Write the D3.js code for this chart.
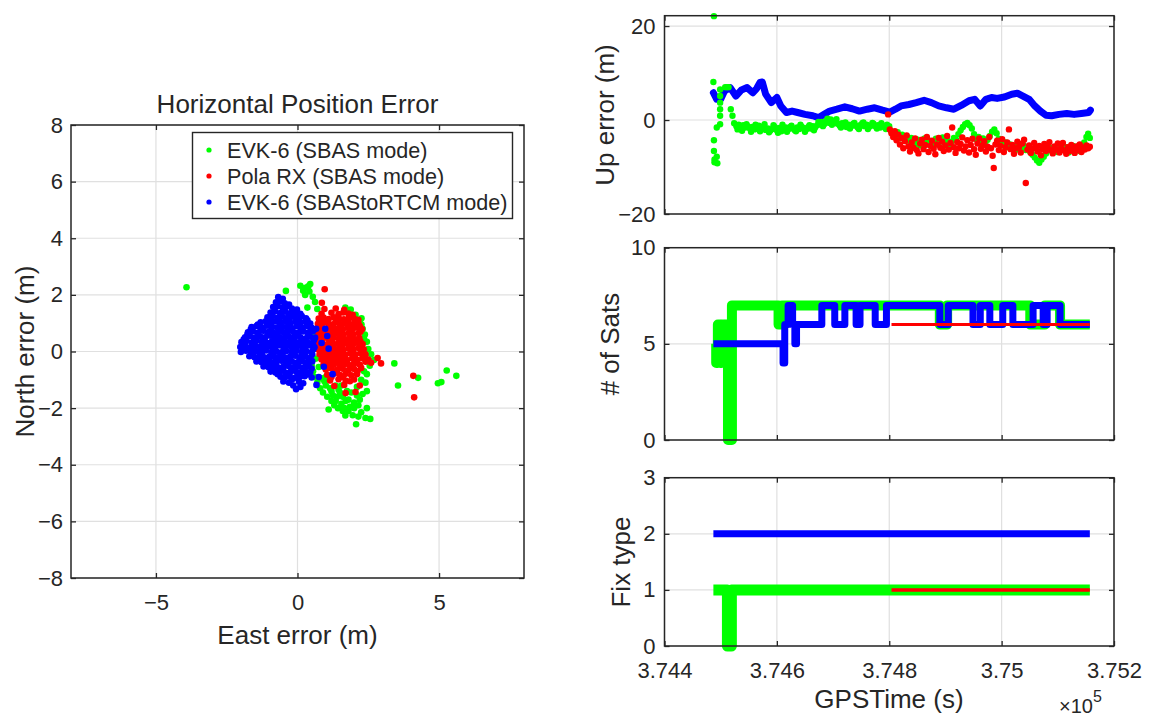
<!DOCTYPE html>
<html>
<head>
<meta charset="utf-8">
<script src="https://cdn.jsdelivr.net/npm/d3@7"></script>
<style>
  body { margin: 0; background: #fff; }
  svg { display: block; }
  text { font-family: "Liberation Sans", Arial, Helvetica, sans-serif; fill: #262626; }
</style>
</head>
<body>
<svg id="chart" width="1150" height="718"></svg>
<script>
// ---------------- data ----------------
const seriesNames = ["EVK-6 (SBAS mode)", "Pola RX (SBAS mode)", "EVK-6 (SBAStoRTCM mode)"];

// Horizontal error, [east (m), north (m)]
const evkSbasEN = [
  [-3.92,2.27],
  [-0.41,2.14],[0.1,2.32],[0.2,2.15],[0.28,2.25],[0.38,2.3],[0.45,2.38],[0.42,2.12],[0.27,2.0],[0.54,1.93],[0.35,1.55],[0.62,1.75],[0.7,1.5],[0.55,0.6],
  [1.69,1.55],[1.88,1.48],[1.8,1.35],[2.05,1.3],[2.26,1.17],[2.2,1.05],[2.26,0.95],[2.3,0.8],[2.38,0.6],[2.35,0.45],[2.45,0.34],[2.5,0.09],[2.6,-0.1],[2.7,-0.3],[2.55,-0.5],[2.45,-0.8],[2.4,-1.1],[2.45,-1.4],
  [0.45,-0.35],[0.5,-0.5],[0.55,-0.7],[0.6,-0.9],[0.65,-0.25],[0.75,-0.55],[0.7,-1.1],[0.85,-0.95],[0.8,-1.3],[0.9,-1.45],[1.0,-0.9],[1.0,-1.2],[1.05,-1.6],[1.2,-1.4],[1.2,-1.75],[1.35,-1.2],[1.3,-1.9],[1.4,-1.6],[1.45,-1.35],[1.43,-2.0],[1.55,-1.85],[1.6,-1.6],[1.65,-2.0],[1.69,-2.26],[1.8,-1.7],[1.8,-2.1],[1.9,-1.45],[1.95,-2.25],[2.0,-1.8],[2.0,-2.0],[2.07,-2.57],[2.1,-1.25],[2.15,-2.3],[2.2,-1.7],[2.25,-1.0],[2.25,-2.15],[2.3,-1.5],[2.35,-0.7],[2.4,-2.35],[2.45,-2.0],[2.57,-2.38],[1.1,-2.05],
  [0.95,-1.05],[1.15,-1.3],[1.25,-1.55],[1.5,-1.45],[1.55,-1.2],[1.75,-1.4],[1.85,-1.95],[1.6,-2.1],[1.35,-1.75],[2.1,-1.55],[2.15,-1.9],[1.7,-1.75],
  [3.42,-0.42],[3.55,-1.2],[4.26,-0.93],[4.96,-1.12],[5.08,-1.08],[5.27,-0.67],[5.61,-0.86]
];

const polaSbasEN = [
  [0.96,2.2],[0.86,1.72],
  [0.95,1.5],[1.35,1.52],[1.65,1.47],
  [0.85,1.33],[1.2,1.37],[1.45,1.32],[1.62,1.38],[1.8,1.34],[1.95,1.3],
  [0.75,1.16],[0.92,1.2],[1.1,1.15],[1.28,1.21],[1.46,1.17],[1.64,1.14],[1.82,1.19],[2.0,1.16],[2.15,1.12],
  [0.72,0.98],[0.9,1.03],[1.08,0.99],[1.26,0.96],[1.44,1.02],[1.62,0.98],[1.8,1.03],[1.98,0.97],[2.15,1.0],
  [0.7,0.8],[0.88,0.84],[1.06,0.79],[1.24,0.85],[1.42,0.81],[1.6,0.78],[1.78,0.84],[1.96,0.8],[2.14,0.85],[2.28,0.79],
  [0.72,0.62],[0.9,0.66],[1.08,0.61],[1.26,0.67],[1.44,0.63],[1.62,0.6],[1.8,0.65],[1.98,0.61],[2.16,0.66],
  [0.74,0.44],[0.92,0.48],[1.1,0.43],[1.28,0.49],[1.46,0.45],[1.64,0.42],[1.82,0.47],[2.0,0.43],[2.18,0.48],
  [0.7,0.26],[0.88,0.3],[1.06,0.25],[1.24,0.31],[1.42,0.27],[1.6,0.24],[1.78,0.29],[1.96,0.25],[2.14,0.3],[2.3,0.26],
  [0.72,0.08],[0.9,0.12],[1.08,0.07],[1.26,0.13],[1.44,0.09],[1.62,0.06],[1.8,0.11],[1.98,0.07],[2.16,0.12],[2.34,0.08],
  [0.78,-0.1],[0.96,-0.06],[1.14,-0.11],[1.32,-0.05],[1.5,-0.09],[1.68,-0.12],[1.86,-0.07],[2.04,-0.11],[2.22,-0.06],[2.4,-0.1],
  [0.85,-0.28],[1.03,-0.24],[1.21,-0.29],[1.39,-0.23],[1.57,-0.27],[1.75,-0.3],[1.93,-0.25],[2.11,-0.29],[2.29,-0.24],[2.5,-0.28],[2.83,-0.23],
  [0.92,-0.46],[1.1,-0.42],[1.28,-0.47],[1.46,-0.41],[1.64,-0.45],[1.82,-0.48],[2.0,-0.43],[2.2,-0.47],[2.6,-0.4],[2.95,-0.42],
  [1.0,-0.64],[1.2,-0.6],[1.4,-0.65],[1.6,-0.61],[1.8,-0.66],[2.0,-0.62],[2.25,-0.58],
  [1.05,-0.82],[1.3,-0.78],[1.5,-0.83],[1.7,-0.79],[1.9,-0.84],[2.1,-0.8],
  [1.15,-1.02],[1.45,-0.98],[1.7,-1.03],[2.0,-0.99],
  [1.3,-1.22],[1.65,-1.18],[2.2,-1.2],
  [1.7,-1.47],[2.05,-1.43],
  [1.0,1.08],[1.35,1.08],[1.7,1.06],[2.05,1.08],
  [0.8,0.9],[1.15,0.92],[1.5,0.9],[1.87,0.92],[2.2,0.9],
  [0.8,0.72],[1.17,0.73],[1.53,0.7],[1.9,0.73],[2.22,0.7],
  [0.82,0.53],[1.18,0.55],[1.55,0.52],[1.91,0.55],
  [0.8,0.36],[1.15,0.37],[1.52,0.35],[1.88,0.37],[2.22,0.36],
  [0.82,0.17],[1.17,0.19],[1.53,0.16],[1.9,0.18],[2.25,0.17],
  [0.87,-0.02],[1.23,0.0],[1.6,-0.02],[1.95,0.0],[2.3,-0.02],
  [0.94,-0.18],[1.3,-0.16],[1.66,-0.19],[2.02,-0.17],[2.38,-0.18],
  [1.0,-0.36],[1.37,-0.35],[1.73,-0.37],[2.1,-0.35],[2.4,-0.36],
  [1.1,-0.54],[1.5,-0.53],[1.9,-0.55],[2.12,-0.7],[1.2,-0.9],[1.6,-0.9],[1.85,-1.05],
  [4.09,-0.86],[4.12,-1.62]
];

const evkRtcmEN = [
  [-0.68,1.92],[-0.52,1.86],
  [-0.76,1.74],[-0.6,1.77],[-0.45,1.7],[-0.3,1.66],
  [-0.86,1.57],[-0.7,1.6],[-0.53,1.55],[-0.36,1.6],[-0.2,1.52],[-0.02,1.48],
  [-0.95,1.38],[-0.79,1.42],[-0.61,1.36],[-0.43,1.41],[-0.26,1.35],[-0.08,1.39],[0.1,1.33],
  [-1.06,1.21],[-0.88,1.25],[-0.71,1.19],[-0.55,1.24],[-0.37,1.18],[-0.2,1.23],[-0.02,1.2],[0.15,1.25],[0.3,1.17],
  [-1.3,1.03],[-1.12,1.07],[-0.95,1.01],[-0.78,1.06],[-0.6,1.02],[-0.43,1.08],[-0.25,1.0],[-0.08,1.05],[0.1,1.01],[0.27,1.06],[0.45,0.99],
  [-1.62,0.86],[-1.45,0.9],[-1.25,0.85],[-1.08,0.91],[-0.9,0.87],[-0.72,0.84],[-0.55,0.9],[-0.38,0.86],[-0.2,0.83],[-0.02,0.89],[0.15,0.85],[0.33,0.9],[0.5,0.84],[0.66,0.8],
  [-1.75,0.68],[-1.57,0.72],[-1.38,0.67],[-1.2,0.73],[-1.02,0.69],[-0.85,0.66],[-0.67,0.72],[-0.5,0.68],[-0.32,0.74],[-0.14,0.69],[0.03,0.66],[0.2,0.71],[0.38,0.67],[0.55,0.72],
  [-1.85,0.5],[-1.68,0.55],[-1.5,0.49],[-1.32,0.54],[-1.14,0.5],[-0.96,0.56],[-0.78,0.51],[-0.6,0.48],[-0.42,0.53],[-0.25,0.49],[-0.07,0.55],[0.1,0.5],[0.28,0.46],[0.45,0.52],[0.62,0.49],
  [-1.98,0.33],[-1.8,0.37],[-1.62,0.32],[-1.44,0.38],[-1.26,0.34],[-1.08,0.31],[-0.9,0.36],[-0.72,0.33],[-0.55,0.38],[-0.37,0.32],[-0.2,0.36],[-0.02,0.31],[0.16,0.37],[0.34,0.33],[0.52,0.3],
  [-2.02,0.16],[-1.85,0.2],[-1.67,0.15],[-1.5,0.21],[-1.32,0.17],[-1.14,0.14],[-0.96,0.19],[-0.78,0.16],[-0.6,0.21],[-0.43,0.15],[-0.25,0.19],[-0.07,0.14],[0.1,0.2],[0.28,0.16],[0.46,0.21],[0.6,0.15],
  [-2.0,-0.02],[-1.82,0.03],[-1.64,-0.03],[-1.46,0.02],[-1.28,-0.01],[-1.1,0.04],[-0.92,-0.02],[-0.75,0.01],[-0.57,-0.03],[-0.39,0.02],[-0.21,-0.01],[-0.03,0.03],[0.14,-0.02],[0.32,0.01],[0.5,-0.03],
  [-1.7,-0.17],[-1.52,-0.2],[-1.34,-0.15],[-1.16,-0.21],[-0.98,-0.17],[-0.8,-0.2],[-0.62,-0.16],[-0.44,-0.21],[-0.26,-0.18],[-0.08,-0.15],[0.1,-0.2],[0.28,-0.17],[0.46,-0.21],
  [-1.45,-0.35],[-1.27,-0.38],[-1.1,-0.34],[-0.92,-0.39],[-0.74,-0.36],[-0.56,-0.33],[-0.38,-0.38],[-0.2,-0.35],[-0.02,-0.39],[0.16,-0.34],[0.34,-0.37],[0.52,-0.35],
  [-1.2,-0.53],[-1.02,-0.56],[-0.85,-0.52],[-0.67,-0.57],[-0.5,-0.54],[-0.32,-0.51],[-0.14,-0.56],[0.04,-0.53],[0.22,-0.57],[0.4,-0.52],
  [-0.95,-0.71],[-0.78,-0.74],[-0.6,-0.7],[-0.42,-0.75],[-0.25,-0.72],[-0.07,-0.69],[0.1,-0.74],[0.28,-0.71],[0.45,-0.73],
  [-0.6,-0.89],[-0.45,-0.92],[-0.28,-0.88],[-0.1,-0.93],[0.08,-0.9],[0.25,-0.87],[0.5,-0.92],
  [-0.5,-1.06],[-0.3,-1.1],[0.05,-1.07],[0.2,-1.12],
  [-0.05,-1.33],
  [-0.6,1.3],[-0.3,1.28],[0.0,1.3],
  [-0.95,1.12],[-0.65,1.14],[-0.3,1.1],[0.05,1.13],[0.35,1.1],
  [-1.4,0.95],[-1.0,0.97],[-0.63,0.94],[-0.28,0.96],[0.08,0.93],[0.42,0.95],
  [-1.65,0.78],[-1.3,0.8],[-0.93,0.76],[-0.58,0.79],[-0.23,0.77],[0.12,0.8],[0.47,0.76],
  [-1.77,0.6],[-1.4,0.62],[-1.05,0.59],[-0.7,0.61],[-0.34,0.58],[0.02,0.62],[0.37,0.59],
  [-1.9,0.43],[-1.53,0.44],[-1.17,0.41],[-0.81,0.45],[-0.46,0.42],[-0.11,0.44],[0.25,0.41],[0.58,0.4],
  [-1.93,0.25],[-1.58,0.27],[-1.22,0.24],[-0.86,0.26],[-0.5,0.23],[-0.15,0.27],[0.2,0.25],[0.55,0.24],
  [-1.9,0.08],[-1.55,0.1],[-1.19,0.07],[-0.83,0.09],[-0.48,0.06],[-0.12,0.1],[0.23,0.07],[0.56,0.08],
  [-1.6,-0.1],[-1.25,-0.08],[-0.89,-0.11],[-0.53,-0.09],[-0.17,-0.12],[0.19,-0.08],[0.52,-0.1],
  [-1.35,-0.27],[-1.0,-0.28],[-0.65,-0.25],[-0.29,-0.29],[0.07,-0.26],[0.43,-0.28],
  [-1.1,-0.45],[-0.76,-0.44],[-0.41,-0.46],[-0.05,-0.43],[0.31,-0.46],
  [-0.87,-0.62],[-0.51,-0.64],[-0.16,-0.61],[0.19,-0.63],[0.5,-0.6],
  [-0.7,-0.8],[-0.35,-0.82],[0.0,-0.79],[0.35,-0.81],
  [-0.2,-1.0],[-0.15,-1.2],[0.1,-1.25],
  [0.98,0.8],[1.05,0.55],[0.93,-0.54],[1.24,-0.8],[0.67,-1.18],[0.85,0.3],[1.1,0.1],[0.75,-0.9]
];

// Up error, [GPS time (s), up (m)]
const evkSbasUp = [
  [374488,22.1],[374487,8.1],[374488,-4.3],[374488,-6.6],[374489,-8.4],[374489,-9.0],
  [374493,-1.6],[374493,-7.8],[374494,-9.2],
  [374499,-0.9],[374499,0.9],[374499,2.3],[374499,3.7],[374499,5.1],[374499,6.5],
  [374508,7.0],[374511,7.0],[374514,7.0],[374518,2.3],[374521,0.9],[374524,-0.7],
  [374528,-1.3],[374532,-1.0],[374536,-1.4],[374540,-1.1],[374544,-1.6],[374548,-1.3],[374552,-1.8],[374556,-1.5],
  [374560,-2.0],[374564,-1.6],[374568,-1.2],[374572,-1.7],[374576,-1.4],[374580,-2.1],[374584,-1.8],[374588,-2.3],
  [374592,-1.9],[374596,-1.5],[374600,-2.2],[374604,-1.7],[374608,-2.4],[374612,-1.9],[374616,-1.6],[374620,-2.0],
  [374624,-1.5],[374628,-1.8],[374632,-2.2],[374636,-1.6],[374640,-1.9],[374644,-1.4],[374648,-1.7],[374652,-2.0],
  [374656,-1.5],[374660,-1.8],[374664,-1.3],[374668,-1.6],[374672,-1.1],[374676,-0.8],[374680,-0.4],[374684,-0.9],
  [374688,-0.2],[374692,-0.6],[374696,0.1],[374700,-0.5],[374704,-0.2],[374708,-0.8],[374712,-1.2],[374716,-0.7],
  [374720,-1.1],[374724,-1.5],[374728,-1.0],[374732,-1.3],[374736,-0.8],[374740,-1.2],[374744,-1.6],[374748,-1.1],
  [374752,-0.7],[374756,-1.3],[374760,-1.0],[374764,-1.5],[374768,-1.2],[374772,-0.8],[374776,-1.4],[374780,-1.1],
  [374784,-1.6],[374788,-1.2],[374792,-1.5],[374796,-1.0],[374800,-1.3],
  [374530,-2.0],[374538,-2.3],[374546,-0.9],[374554,-2.5],[374562,-1.0],[374570,-2.4],[374578,-0.9],[374586,-2.6],
  [374594,-1.1],[374602,-2.7],[374610,-1.0],[374618,-2.5],[374626,-1.2],[374634,-2.4],[374642,-1.0],[374650,-2.5],
  [374658,-1.1],[374666,-2.2],[374674,-0.4],[374682,-1.3],[374690,0.3],[374698,-1.0],[374706,0.2],[374714,-1.6],
  [374722,-0.5],[374730,-1.8],[374738,-0.6],[374746,-1.9],[374754,-0.5],[374762,-1.9],[374770,-0.6],[374778,-1.8],
  [374786,-0.7],[374794,-1.9],
  [374803,-2.3],[374807,-2.8],[374811,-3.4],[374815,-2.6],[374819,-3.9],[374823,-3.1],[374827,-4.1],[374831,-3.5],
  [374835,-4.4],[374839,-3.8],[374843,-4.6],[374847,-5.1],[374851,-4.2],[374855,-5.4],[374859,-4.7],[374863,-3.9],
  [374867,-5.0],[374871,-4.4],[374875,-5.6],[374879,-4.8],[374883,-4.0],[374887,-5.2],[374891,-4.5],[374895,-3.7],
  [374899,-4.9],[374903,-4.3],[374907,-5.5],[374911,-4.6],[374915,-3.8],[374919,-4.2],[374923,-3.0],[374927,-2.2],
  [374931,-1.5],[374935,-0.9],[374939,-0.6],[374943,-1.1],[374947,-1.8],[374951,-3.0],[374955,-4.1],[374959,-3.6],
  [374963,-4.5],[374967,-3.9],[374971,-4.8],[374975,-4.2],[374979,-3.4],[374983,-2.5],[374987,-2.0],[374991,-2.8],
  [374995,-4.0],[374999,-4.9],[375003,-5.4],[375007,-4.8],[375011,-5.8],[375015,-5.2],[375019,-6.0],[375023,-5.5],
  [375027,-6.3],[375031,-5.7],[375035,-6.1],[375039,-5.4],[375043,-6.4],[375047,-5.9],[375051,-6.8],[375055,-7.4],
  [375059,-8.0],[375063,-8.6],[375067,-9.1],[375071,-8.4],[375075,-7.8],[375079,-7.1],[375083,-6.5],[375087,-5.9],
  [375091,-6.6],[375095,-6.0],[375099,-6.8],[375103,-6.2],[375107,-5.6],[375111,-6.4],[375115,-5.8],[375119,-6.9],
  [375123,-6.1],[375127,-5.5],[375131,-6.3],[375135,-5.7],[375139,-6.6],[375143,-5.9],[375147,-4.8],[375151,-3.6],
  [375154,-2.9],[375157,-3.8]
];

const polaSbasUp = [
  [374798,1.2],[374801,-2.0],[374804,-2.8],[374807,-3.6],[374810,-2.4],[374813,-4.3],[374816,-3.1],[374819,-5.2],
  [374822,-3.8],[374825,-6.0],[374828,-4.5],[374831,-3.3],[374834,-5.6],[374837,-6.7],[374840,-4.8],[374843,-5.9],
  [374846,-3.9],[374849,-6.4],[374852,-7.1],[374855,-5.0],[374858,-4.2],[374861,-6.2],[374864,-5.3],[374867,-3.6],
  [374870,-6.8],[374873,-5.5],[374876,-4.4],[374879,-6.1],[374882,-7.3],[374885,-5.2],[374888,-3.8],[374891,-5.9],
  [374894,-4.6],[374897,-6.6],[374900,-5.4],[374903,-3.4],[374906,-6.3],[374909,-4.9],[374912,-1.6],[374915,-5.8],
  [374918,-7.0],[374921,-4.7],[374924,-6.0],[374927,-5.1],[374930,-3.7],[374933,-6.5],[374936,-5.6],[374939,-4.3],
  [374942,-6.9],[374945,-5.3],[374948,-4.0],[374951,-6.2],[374954,-7.4],[374957,-5.0],[374960,-3.9],[374963,-6.1],
  [374966,-5.4],[374969,-4.5],[374972,-6.7],[374975,-5.7],[374978,-3.6],[374981,-6.0],[374984,-7.6],[374986,-10.2],
  [374989,-5.2],[374992,-4.4],[374995,-6.4],[374998,-5.5],[375001,-4.1],[375004,-6.8],[375007,-5.8],[375010,-4.8],
  [375013,-2.0],[375016,-6.2],[375019,-5.3],[375022,-7.2],[375025,-6.0],[375028,-4.6],[375031,-5.7],[375034,-6.9],
  [375037,-5.0],[375040,-4.2],[375043,-13.4],[375046,-6.3],[375049,-5.4],[375052,-7.0],[375055,-6.1],[375058,-4.9],
  [375061,-5.8],[375064,-6.7],[375067,-5.5],[375070,-7.5],[375073,-6.2],[375076,-5.1],[375079,-6.6],[375082,-5.7],
  [375085,-4.7],[375088,-6.4],[375091,-7.1],[375094,-5.6],[375097,-6.3],[375100,-5.0],[375103,-6.9],[375106,-5.9],
  [375109,-4.9],[375112,-6.5],[375115,-7.2],[375118,-5.8],[375121,-6.6],[375124,-5.3],[375127,-6.1],[375130,-7.0],
  [375133,-5.6],[375136,-6.4],[375139,-5.2],[375142,-6.8],[375145,-5.9],[375148,-6.3],[375151,-5.4],[375154,-6.0],
  [375157,-5.7]
];

const evkRtcmUp = [
  [374487,5.8],[374493,4.4],[374500,4.4],[374507,6.2],[374517,6.9],[374527,5.1],[374537,6.4],[374547,6.9],
  [374557,5.8],[374564,6.7],[374570,8.0],[374574,8.1],[374580,5.5],[374590,3.7],[374600,4.8],[374607,3.0],
  [374617,1.6],[374627,1.9],[374637,1.6],[374650,1.2],[374664,0.9],[374674,0.5],[374684,1.2],[374694,1.9],
  [374707,2.3],[374721,2.8],[374734,2.4],[374747,1.9],[374761,2.3],[374774,2.6],[374788,2.1],[374801,1.7],
  [374811,2.3],[374821,3.0],[374835,3.3],[374848,3.7],[374862,4.2],[374875,3.7],[374888,3.0],[374902,2.6],
  [374915,2.3],[374928,3.1],[374942,4.1],[374952,4.4],[374962,3.0],[374972,4.4],[374982,4.8],[374992,4.6],
  [375005,4.9],[375018,5.5],[375028,5.7],[375038,5.1],[375049,4.4],[375059,3.0],[375069,1.9],[375079,1.0],
  [375089,0.9],[375102,1.2],[375116,1.4],[375129,1.2],[375142,1.4],[375155,1.6],[375158,2.1]
];

// Number of satellites, [GPS time (s), count] (value holds until the next sample)
const evkSbasSats = [
  [374487,5],[374492,4],[374495,6],[374499,4],[374502,6],[374506,5],[374509,6],[374513,0],[374520,7],
  [374603,6],[374609,7],[374890,6],[374903,7],[375051,6],[375077,7],[375104,6],[375157,6]
];
const polaSbasSats = [[374804,6],[375157,6]];
const evkRtcmSats = [
  [374487,5],[374611,4],[374614,6],[374620,7],[374628,6],[374632,5],[374635,6],[374680,7],[374703,6],[374721,7],
  [374741,6],[374748,7],[374775,6],[374795,7],[374890,6],[374905,7],[374949,6],[374962,7],[374979,6],[375002,7],
  [375020,6],[375056,7],[375074,6],[375081,7],[375104,6],[375157,6]
];

// Fix type, [GPS time (s), type]
const evkSbasFix = [[374487,1],[374512,0],[374519,1],[375157,1]];
const polaSbasFix = [[374804,1],[375157,1]];
const evkRtcmFix = [[374487,2],[375157,2]];

// axis ticks
const enTicksX = [-5, 0, 5];
const enTicksY = [-8, -6, -4, -2, 0, 2, 4, 6, 8];
const timeTicks = [374400, 374600, 374800, 375000, 375200];
const timeTickLabels = ["3.744", "3.746", "3.748", "3.75", "3.752"];
const upTicks = [-20, 0, 20];
const satTicks = [0, 5, 10];
const fixTicks = [0, 1, 2, 3];

// ---------------- drawing ----------------
const GREEN = "#00ff00", RED = "#ff0000", BLUE = "#0000ff";
const AX = "#262626", GRID = "#e0e0e0";
const svg = d3.select("#chart");
svg.append("rect").attr("width", 1150).attr("height", 718).attr("fill", "#fff");

function frame(x, y, xt, yt, opts) {
  const [x0, x1] = x.range();
  const [y0, y1] = y.range(); // y0 bottom, y1 top
  const g = svg.append("g");
  // grid
  g.append("g").selectAll("line").data(xt).join("line")
    .attr("x1", d => x(d)).attr("x2", d => x(d)).attr("y1", y1).attr("y2", y0)
    .attr("stroke", GRID).attr("stroke-width", 1.2);
  g.append("g").selectAll("line").data(yt).join("line")
    .attr("y1", d => y(d)).attr("y2", d => y(d)).attr("x1", x0).attr("x2", x1)
    .attr("stroke", GRID).attr("stroke-width", 1.2);
  const marks = svg.append("g");
  const ax = svg.append("g");
  const style = sel => {
    sel.select(".domain").remove();
    sel.selectAll(".tick line").attr("stroke", AX).attr("stroke-width", 1.3);
    sel.selectAll(".tick text").attr("fill", "#262626").style("font-size", "22px")
      .style("font-family", "'Liberation Sans', Arial, sans-serif");
  };
  const bottom = d3.axisBottom(x).tickValues(xt).tickSize(-5).tickPadding(opts.xPad || 16);
  if (opts.xFmt) bottom.tickFormat(opts.xFmt); else bottom.tickFormat("");
  ax.append("g").attr("transform", `translate(0,${y0})`).call(bottom).call(style);
  ax.append("g").attr("transform", `translate(0,${y1})`)
    .call(d3.axisTop(x).tickValues(xt).tickSize(-5).tickFormat("")).call(style);
  ax.append("g").attr("transform", `translate(${x0},0)`)
    .call(d3.axisLeft(y).tickValues(yt).tickSize(-5).tickPadding(opts.yPad || 8).tickFormat(d3.format("d"))).call(style);
  ax.append("g").attr("transform", `translate(${x1},0)`)
    .call(d3.axisRight(y).tickValues(yt).tickSize(-5).tickFormat("")).call(style);
  ax.append("rect").attr("x", x0).attr("y", y1).attr("width", x1 - x0).attr("height", y0 - y1)
    .attr("fill", "none").attr("stroke", AX).attr("stroke-width", 1.5);
  return marks;
}

function yLabel(text, cx, cy) {
  svg.append("text").attr("transform", `translate(${cx},${cy}) rotate(-90)`)
    .attr("text-anchor", "middle").style("font-size", "26px").text(text);
}

// ---- Horizontal position error ----
const xE = d3.scaleLinear([-8, 8], [71, 524]);
const yN = d3.scaleLinear([-8, 8], [578, 125]);
const hp = frame(xE, yN, enTicksX, enTicksY, { xFmt: d3.format("d"), xPad: 16, yPad: 8 });

[[evkSbasEN, GREEN], [polaSbasEN, RED], [evkRtcmEN, BLUE]].forEach(([pts, c]) => {
  hp.append("g").selectAll("circle").data(pts).join("circle")
    .attr("cx", d => xE(d[0])).attr("cy", d => yN(d[1])).attr("r", 3.3).attr("fill", c);
});

svg.append("text").attr("x", 297.5).attr("y", 113).attr("text-anchor", "middle")
  .style("font-size", "26px").text("Horizontal Position Error");
svg.append("text").attr("x", 297.5).attr("y", 644).attr("text-anchor", "middle")
  .style("font-size", "26px").text("East error (m)");
yLabel("North error (m)", 34, 351.5);

// legend
const lg = svg.append("g");
lg.append("rect").attr("x", 192.5).attr("y", 132.5).attr("width", 320).attr("height", 86)
  .attr("fill", "#fff").attr("stroke", AX).attr("stroke-width", 1.4);
[GREEN, RED, BLUE].forEach((c, i) => {
  const cy = 150 + i * 26;
  lg.append("circle").attr("cx", 209).attr("cy", cy).attr("r", 2.6).attr("fill", c);
  lg.append("text").attr("x", 227).attr("y", cy + 8).style("font-size", "21.6px").text(seriesNames[i]);
});

// ---- time series panels ----
const xT = d3.scaleLinear([374400, 375200], [664.5, 1114]);
const tFmt = (d, i) => timeTickLabels[i];
const yUp = d3.scaleLinear([-20, 22.2], [214, 15.7]);
const ySat = d3.scaleLinear([0, 10], [440, 247.7]);
const yFix = d3.scaleLinear([0, 3], [646, 477.7]);

const up = frame(xT, yUp, timeTicks, upTicks, { xFmt: null, yPad: 9 });
const sat = frame(xT, ySat, timeTicks, satTicks, { xFmt: null, yPad: 9 });
const fix = frame(xT, yFix, timeTicks, fixTicks, { xFmt: tFmt, xPad: 16, yPad: 9 });

// up error
up.append("path").datum(evkRtcmUp)
  .attr("d", d3.line().x(d => xT(d[0])).y(d => yUp(d[1])).curve(d3.curveLinear))
  .attr("fill", "none").attr("stroke", BLUE).attr("stroke-width", 7)
  .attr("stroke-linejoin", "round").attr("stroke-linecap", "round");
[[evkSbasUp, GREEN], [polaSbasUp, RED]].forEach(([pts, c]) => {
  up.append("g").selectAll("circle").data(pts).join("circle")
    .attr("cx", d => xT(d[0])).attr("cy", d => yUp(d[1])).attr("r", 3.2).attr("fill", c);
});

// satellites
const stepLine = yS => d3.line().x(d => xT(d[0])).y(d => yS(d[1])).curve(d3.curveStepAfter);
function stepPath(g, data, yS, color, w) {
  g.append("path").datum(data).attr("d", stepLine(yS)).attr("fill", "none")
    .attr("stroke", color).attr("stroke-width", w).attr("stroke-linejoin", "round");
}
stepPath(sat, evkSbasSats, ySat, GREEN, 10);
stepPath(sat, evkRtcmSats, ySat, BLUE, 7);
stepPath(sat, polaSbasSats, ySat, RED, 3);

// fix type
stepPath(fix, evkRtcmFix, yFix, BLUE, 7);
stepPath(fix, evkSbasFix, yFix, GREEN, 11);
stepPath(fix, polaSbasFix, yFix, RED, 3.5);

yLabel("Up error (m)", 614, 115);
yLabel("# of Sats", 619, 344);
yLabel("Fix type", 630, 562);

svg.append("text").attr("x", 889).attr("y", 708).attr("text-anchor", "middle")
  .style("font-size", "26px").text("GPSTime (s)");
const ex = svg.append("text").attr("x", 1059).attr("y", 713).style("font-size", "20px");
ex.append("tspan").text("\u00d710");
ex.append("tspan").attr("dy", -11).style("font-size", "16px").text("5");
</script>
</body>
</html>
